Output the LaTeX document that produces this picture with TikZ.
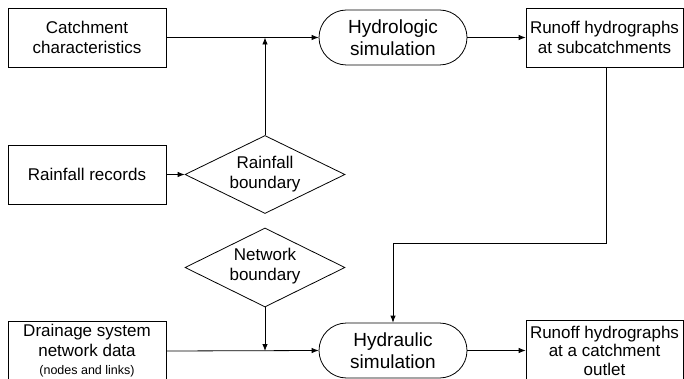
\documentclass[tikz,border=0pt]{standalone}
\usepackage{fontspec}
\setmainfont{Liberation Sans}
\usetikzlibrary{arrows.meta,shapes.geometric}
\begin{document}
\begin{tikzpicture}[x=1pt,y=-1pt,
  every node/.style={font=\fontsize{17pt}{20pt}\selectfont},
  box/.style={draw, line width=0.8pt, rectangle, minimum width=158pt, minimum height=59pt, inner sep=1pt, align=center},
  term/.style={draw, line width=0.8pt, rectangle, rounded corners=27.5pt, minimum width=148pt, minimum height=55pt, inner sep=0pt, align=center, font=\fontsize{19pt}{22pt}\selectfont},
  dia/.style={draw, line width=0.8pt, diamond, minimum width=160pt, minimum height=78pt, inner sep=0pt},
  txt/.style={align=center, inner sep=0pt},
  conn/.style={line width=0.8pt, -{Latex[length=7pt,width=5.5pt]}},
  plain/.style={line width=0.8pt}
]
\useasboundingbox (0,0) rectangle (684,379);
\clip (0,0) rectangle (684,379);

\node[box] (catch) at (87,37.5) {Catchment\\characteristics};
\node[term] (hydro) at (393,37.5) {Hydrologic\\simulation};
\node[box, minimum width=157pt] (run1) at (604.5,37.5) {Runoff hydrographs\\at subcatchments};

\node[box] (rain) at (87,174.5) {Rainfall records};
\node[dia] (rb) at (265,174.5) {};
\node[txt] (rbt) at (265,174) {Rainfall\\boundary};

\node[dia, minimum height=79pt] (nb) at (265,267.5) {};
\node[txt] (nbt) at (265,266) {Network\\boundary};

\node[box, minimum height=60pt, inner sep=0pt] (drain) at (87,351) {Drainage system\\network data\\[-2pt]{\fontsize{12.5pt}{14pt}\selectfont (nodes and links)}};
\node[term] (hydra) at (393,350.5) {Hydraulic\\simulation};
\node[box, minimum width=157pt, minimum height=60pt, inner sep=0pt, font=\fontsize{17pt}{18.5pt}\selectfont] (run2) at (604.5,350.5) {Runoff hydrographs\\at a catchment\\outlet};

\coordinate (j1) at (rb.north |- catch.east);
\coordinate (j2) at (nb.south |- drain.east);
\coordinate (k1) at (606,243);
\coordinate (k2) at (hydra.north |- k1);

\draw[conn] (catch.east) -- (hydro.west);
\draw[conn] (rb.north) -- (j1);
\draw[conn] (rain.east) -- (rb.west);
\draw[conn] (hydro.east) -- (run1.west);
\draw[conn] (run1.south -| k1) -- (k1) -- (k2) -- (hydra.north);
\draw[conn] (nb.south) -- (j2);
\draw[conn] (drain.east) -- (hydra.west);
\draw[conn] (hydra.east) -- (run2.west);
\end{tikzpicture}
\end{document}
